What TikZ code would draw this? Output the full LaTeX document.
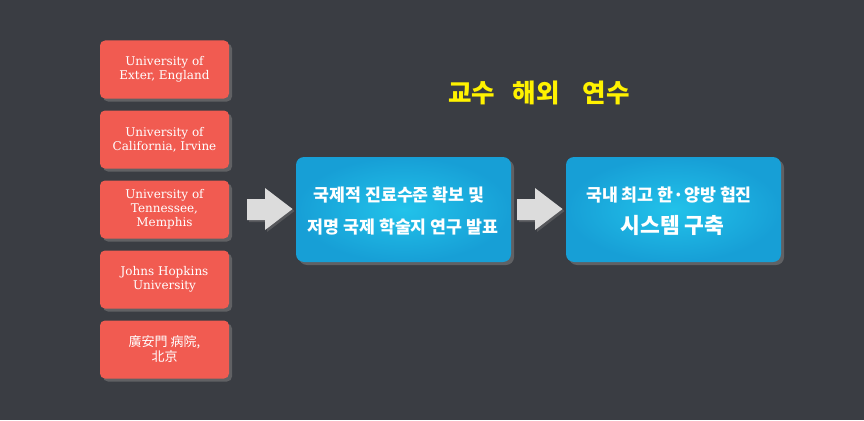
\documentclass[tikz,border=0pt]{standalone}
\usepackage{fontspec}
\setmainfont{DejaVu Serif}
\newfontfamily\kr{Noto Sans CJK KR}
\usetikzlibrary{shadows}
\definecolor{bgc}{HTML}{3A3D43}
\definecolor{redbox}{HTML}{F15B51}
\definecolor{blueout}{HTML}{179FD6}
\definecolor{bluein}{HTML}{22C2EA}
\definecolor{arrowc}{HTML}{DCDCDC}
\definecolor{titlec}{HTML}{FFF200}
\tikzset{
  uni/.style={fill=redbox, rounded corners=5pt, minimum width=129pt, minimum height=58pt,
    text=white, align=center, font=\fontsize{12}{14}\selectfont, inner sep=2pt,
    drop shadow={shadow xshift=3pt, shadow yshift=-3pt, opacity=0.55}},
  bluebox/.style={inner color=bluein, outer color=blueout, rounded corners=8pt,
    minimum width=215pt, minimum height=105pt,
    drop shadow={shadow xshift=3pt, shadow yshift=-3pt, opacity=0.55}},
  krtext/.style={text=white, inner sep=0pt, font=\kr\bfseries\fontsize{17.3}{20}\selectfont},
  bigarrow/.style={fill=arrowc,
    drop shadow={shadow xshift=2pt, shadow yshift=-2pt, opacity=0.4}}
}
\begin{document}
\begin{tikzpicture}[x=1pt,y=-1pt]
\fill[bgc] (0,0) rectangle (864,420);
\useasboundingbox (0,0) rectangle (864,420);
\node[uni] (u1) at (164.5,69.5) {University of\\Exter, England};
\node[uni] (u2) at (164.5,139.5) {University of\\California, Irvine};
\node[uni] (u3) at (164.5,209.5) {University of\\Tennessee,\\Memphis};
\node[uni] (u4) at (164.5,279.5) {Johns Hopkins\\University};
\node[uni, font=\kr\fontsize{13}{15}\selectfont] (u5) at (164.5,349.5) {廣安門 病院,\\北京};
\node[text=titlec, inner sep=0pt, font=\kr\bfseries\fontsize{25.5}{28}\selectfont] (title) at (539,93) {교수\hspace{0.7em}해외\hspace{0.9em}연수};
\node[bluebox] (b1) at (403.5,209.5) {};
\node[krtext] (b1a) at (399,195) {국제적 진료수준 확보 및};
\node[krtext] (b1b) at (403,227) {저명 국제 학술지 연구 발표};
\node[bluebox] (b2) at (673.5,209.5) {};
\node[krtext] (b2a) at (669,195) {국내 최고 한·양방 협진};
\node[krtext, font=\kr\bfseries\fontsize{21.5}{24}\selectfont] (b2b) at (672.5,225) {시스템 구축};
\foreach \dx/\nm in {0/a1,270/a2}{
  \begin{scope}[xshift=\dx]
  \fill[bigarrow] (247,199) -- (265,199) -- (265,188) -- (292.5,209) -- (265,230) -- (265,220) -- (247,220) -- cycle;
  \end{scope}
}
\end{tikzpicture}
\end{document}
